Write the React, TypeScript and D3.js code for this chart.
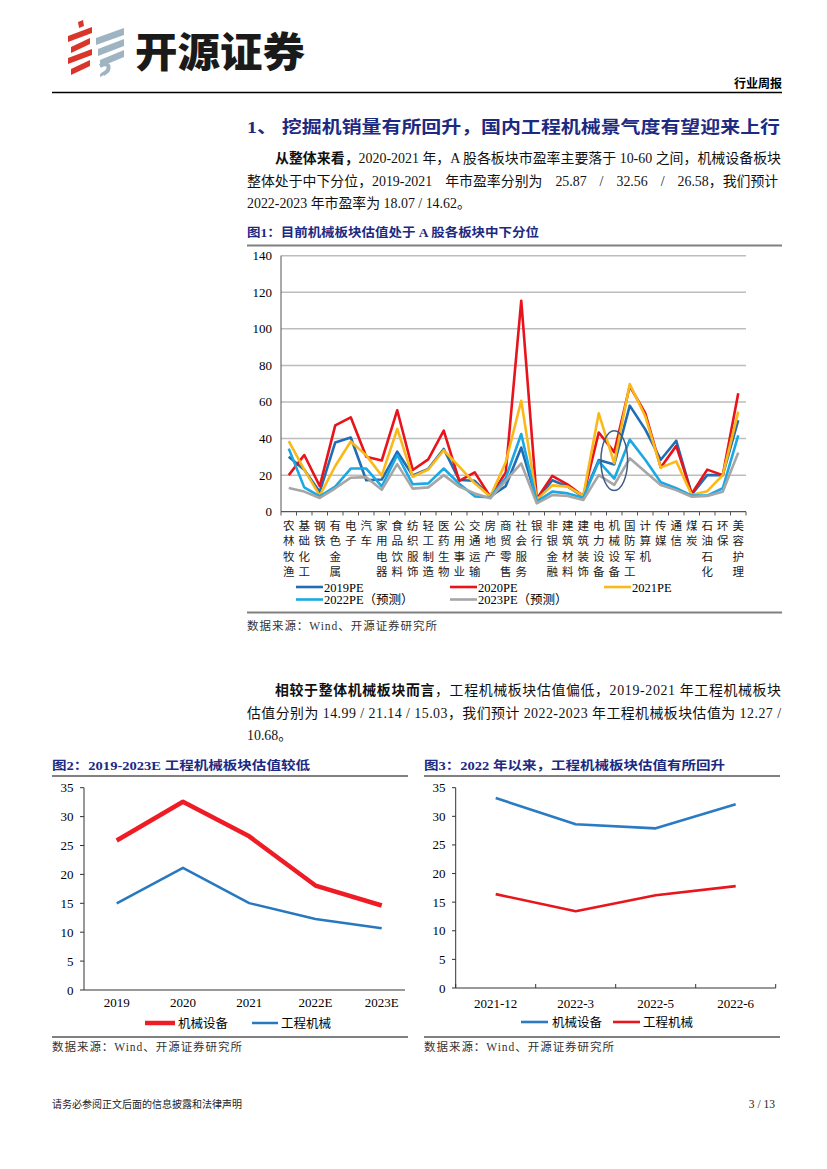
import React from 'react';
import * as d3 from 'd3';

// ---- chart 1: sector PE ----
const sectors = [
  '农林牧渔', '基础化工', '钢铁', '有色金属', '电子', '汽车', '家用电器', '食品饮料', '纺织服饰', '轻工制造',
  '医药生物', '公用事业', '交通运输', '房地产', '商贸零售', '社会服务', '银行', '非银金融', '建筑材料', '建筑装饰',
  '电力设备', '机械设备', '国防军工', '计算机', '传媒', '通信', '煤炭', '石油石化', '环保', '美容护理',
];
const pe2019 = [30, 23, 10.8, 37.9, 40.6, 17.2, 17.6, 32.8, 19.8, 23.4, 34.3, 17.3, 16.9, 8.4, 14, 35.1, 6.2, 17.2, 13.7, 8.2, 28.3, 25.87, 58, 45, 28.4, 38.8, 9.5, 20, 20, 50];
const pe2020 = [20, 31, 14, 47.2, 51.6, 30, 28, 55.5, 22.8, 28.6, 44.3, 16.8, 21.5, 8.2, 21.5, 115.4, 7, 19.6, 14.8, 8.6, 43.3, 32.56, 68.7, 53.9, 24.2, 36, 9.8, 23, 20, 64.8];
const pe2021 = [38.6, 23, 8.8, 25, 38.4, 30.8, 19.7, 45.3, 19.1, 23.1, 33.6, 24.6, 15.5, 8.3, 27, 60.7, 6.6, 14.4, 13.7, 8.6, 53.8, 26.58, 69.8, 52.2, 24.1, 27.5, 9.1, 11.2, 20, 54.7];
const pe2022 = [34.5, 13.3, 8.4, 13.7, 23.6, 23.6, 13.8, 31, 15, 15.5, 23.6, 15.3, 8.4, 7.9, 18.5, 42.5, 5.5, 11, 10, 7.6, 27.5, 18.07, 39.4, 28.4, 16.1, 12.8, 8.8, 8.8, 12.8, 41.7];
const pe2023 = [13, 11, 7.5, 12.8, 18.6, 18.9, 12, 26, 12.6, 13.3, 20, 13.7, 10, 7.3, 17, 26.4, 4.6, 9.1, 8.6, 6.4, 20, 14.62, 29.2, 21.9, 14.6, 11.8, 8.2, 8.6, 10.9, 32.3];
const peNames = ['2019PE', '2020PE', '2021PE', '2022PE（预测）', '2023PE（预测）'];
const peColors = ['#1f6db4', '#e8131b', '#fbb919', '#1ba8e3', '#a6a6a6'];
const peTicks = [0, 20, 40, 60, 80, 100, 120, 140];
const highlightSector = '机械设备';
const highlightRange = [11.6, 44.3];

// ---- chart 2: yearly ----
const years = ['2019', '2020', '2021', '2022E', '2023E'];
const machYear = [25.87, 32.56, 26.58, 18.07, 14.62];
const engYear = [14.99, 21.14, 15.03, 12.27, 10.68];

// ---- chart 3: recent months ----
const months = ['2021-12', '2022-3', '2022-5', '2022-6'];
const machMonth = [33.2, 28.6, 27.9, 32.1];
const engMonth = [16.4, 13.4, 16.2, 17.8];
const smallTicks = [0, 5, 10, 15, 20, 25, 30, 35];

const SERIF = "'Liberation Serif', 'Noto Sans CJK SC', serif";
const CJK = "'Noto Sans CJK SC', sans-serif";
const NAVY = '#1c2a83';
const BODY = 13.9;

const Chart1 = () => {
  const x = d3.scaleBand().domain(sectors).range([281, 746]);
  const y = d3.scaleLinear().domain([0, 140]).range([511.7, 255.7]);
  const cx = (i: number) => (x(sectors[i]) as number) + x.bandwidth() / 2;
  const line = d3.line<number>().x((_, i) => cx(i)).y(d => y(d));
  const series = [pe2019, pe2020, pe2021, pe2022, pe2023];
  const hx = (x(highlightSector) as number) + x.bandwidth() / 2;
  const legendPos = [
    [296, 587], [450, 587], [604, 587], [296, 599.5], [450, 599.5],
  ];
  return (
    <g>
      {peTicks.filter(t => t > 0).map(t => (
        <line key={t} x1={281} x2={746} y1={y(t)} y2={y(t)} stroke="#bdbdbd" strokeWidth={1.5} />
      ))}
      {peTicks.map(t => (
        <text key={t} x={272} y={y(t) + 4.5} textAnchor="end" fontSize={13} fontFamily={SERIF}>{t}</text>
      ))}
      <line x1={281} x2={281} y1={255.7} y2={511.7} stroke="#555" strokeWidth={1} />
      <line x1={281} x2={746} y1={511.7} y2={511.7} stroke="#555" strokeWidth={1.2} />
      {d3.range(sectors.length + 1).map(i => (
        <line key={i} x1={281 + i * x.step()} x2={281 + i * x.step()} y1={511.7} y2={515.5} stroke="#555" />
      ))}
      {series.map((s, k) => (
        <path key={k} d={line(s) as string} fill="none" stroke={peColors[k]} strokeWidth={2.6} strokeLinejoin="round" />
      ))}
      <ellipse cx={hx} cy={(y(highlightRange[0]) + y(highlightRange[1])) / 2}
        rx={x.bandwidth() * 0.86} ry={(y(highlightRange[0]) - y(highlightRange[1])) / 2}
        fill="none" stroke="#3d5d86" strokeWidth={1.5} />
      {sectors.map((s, i) => (
        <g key={s}>
          {s.split('').map((c, k) => (
            <text key={k} x={cx(i)} y={529.5 + k * 15.6} textAnchor="middle" fontSize={11.5} fontFamily={CJK} fill="#222">{c}</text>
          ))}
        </g>
      ))}
      {peNames.map((n, k) => (
        <g key={n}>
          <line x1={legendPos[k][0]} x2={legendPos[k][0] + 27} y1={legendPos[k][1]} y2={legendPos[k][1]} stroke={peColors[k]} strokeWidth={2.6} />
          <text x={legendPos[k][0] + 28} y={legendPos[k][1] + 4.5} fontSize={12.5} fontFamily={SERIF}>{n}</text>
        </g>
      ))}
    </g>
  );
};

const Chart2 = () => {
  const x = d3.scalePoint().domain(years).range([116.7, 381.7]);
  const y = d3.scaleLinear().domain([0, 35]).range([990, 787.7]);
  const line = d3.line<number>().x((_, i) => x(years[i]) as number).y(d => y(d));
  return (
    <g>
      <line x1={84} x2={84} y1={787.7} y2={990} stroke="#333" />
      <line x1={84} x2={405} y1={990} y2={990} stroke="#333" />
      {smallTicks.map(t => (
        <g key={t}>
          <line x1={80} x2={84} y1={y(t)} y2={y(t)} stroke="#333" />
          <text x={73.5} y={y(t) + 4.5} textAnchor="end" fontSize={13} fontFamily={SERIF}>{t}</text>
        </g>
      ))}
      {years.map(v => (
        <text key={v} x={x(v)} y={1006.5} textAnchor="middle" fontSize={13} fontFamily={SERIF}>{v}</text>
      ))}
      <path d={line(machYear) as string} fill="none" stroke="#ee1c25" strokeWidth={4.5} strokeLinejoin="round" />
      <path d={line(engYear) as string} fill="none" stroke="#2878c0" strokeWidth={2.5} strokeLinejoin="round" />
      <line x1={145} x2={175} y1={1023} y2={1023} stroke="#ee1c25" strokeWidth={4.5} />
      <text x={178} y={1027.5} fontSize={12.5} fontFamily={CJK}>机械设备</text>
      <line x1={252} x2={278} y1={1023} y2={1023} stroke="#2878c0" strokeWidth={2.5} />
      <text x={281} y={1027.5} fontSize={12.5} fontFamily={CJK}>工程机械</text>
    </g>
  );
};

const Chart3 = () => {
  const x = d3.scaleBand().domain(months).range([455.7, 775.7]);
  const y = d3.scaleLinear().domain([0, 35]).range([988, 787.7]);
  const cx = (i: number) => (x(months[i]) as number) + x.bandwidth() / 2;
  const line = d3.line<number>().x((_, i) => cx(i)).y(d => y(d));
  return (
    <g>
      <line x1={455.7} x2={455.7} y1={787.7} y2={988} stroke="#333" />
      <line x1={455.7} x2={775.7} y1={988} y2={988} stroke="#333" />
      {d3.range(months.length + 1).map(i => (
        <line key={i} x1={455.7 + i * x.step()} x2={455.7 + i * x.step()} y1={984} y2={988} stroke="#333" />
      ))}
      {smallTicks.map(t => (
        <g key={t}>
          <line x1={452} x2={455.7} y1={y(t)} y2={y(t)} stroke="#333" />
          <text x={445.5} y={y(t) + 4.5} textAnchor="end" fontSize={13} fontFamily={SERIF}>{t}</text>
        </g>
      ))}
      {months.map((m, i) => (
        <text key={m} x={cx(i)} y={1007.5} textAnchor="middle" fontSize={13} fontFamily={SERIF}>{m}</text>
      ))}
      <path d={line(machMonth) as string} fill="none" stroke="#2a7bc1" strokeWidth={2.6} strokeLinejoin="round" />
      <path d={line(engMonth) as string} fill="none" stroke="#e8151c" strokeWidth={2.6} strokeLinejoin="round" />
      <line x1={521} x2={548} y1={1022} y2={1022} stroke="#2a7bc1" strokeWidth={2.6} />
      <text x={552} y={1026.5} fontSize={12.5} fontFamily={CJK}>机械设备</text>
      <line x1={613} x2={640} y1={1022} y2={1022} stroke="#e8151c" strokeWidth={2.6} />
      <text x={643} y={1026.5} fontSize={12.5} fontFamily={CJK}>工程机械</text>
    </g>
  );
};

const Logo = () => (
  <g>
    {[0, 1, 2, 3].map(i => (
      <polygon key={'r' + i} fill="#d9352a"
        points={`${68 + (i % 2) * 3},${36 + i * 11} ${92 - (i % 2) * 2},${27 + i * 11} ${92 - (i % 2) * 2},${33 + i * 11} ${68 + (i % 2) * 3},${42 + i * 11}`} />
    ))}
    <polygon fill="#d9352a" points="78,22 83,20 84,26 79,28" />
    {[0, 1, 2].map(i => (
      <polygon key={'g' + i} fill="#9fb4c2"
        points={`${96 + i * 2},${38 + i * 11} ${124},${28 + i * 11} ${124},${35 + i * 11} ${96 + i * 2},${45 + i * 11}`} />
    ))}
    <path d="M100,66 C106,63 110,64 108,70 C106,74 101,74 102,76" fill="none" stroke="#9fb4c2" strokeWidth={4} />
  </g>
);

const bodyText = { fontSize: BODY, fontFamily: SERIF, fill: '#111' };

export default function App() {
  return (
    <div style={{ position: 'absolute', left: 0, top: 0 }}>
      <svg width={827} height={1169} style={{ display: 'block', background: '#fff' }}>
        <Logo />
        <text x={135} y={67} fontSize={41} fontWeight={900} fontFamily={CJK} fill="#1a1a1a" textLength={170} lengthAdjust="spacingAndGlyphs">开源证券</text>
        <text x={782} y={88} textAnchor="end" fontSize={12} fontWeight={700} fontFamily={CJK}>行业周报</text>
        <line x1={52} x2={782} y1={92.5} y2={92.5} stroke="#000" strokeWidth={1.5} />

        <text x={247} y={133} fontSize={17} fontWeight={700} fontFamily={SERIF} fill={NAVY} textLength={533} lengthAdjust="spacingAndGlyphs">1、 挖掘机销量有所回升，国内工程机械景气度有望迎来上行</text>

        <text x={275} y={163} {...bodyText} textLength={506} lengthAdjust="spacingAndGlyphs">
          <tspan fontWeight={700}>从整体来看，</tspan>2020-2021 年，A 股各板块市盈率主要落于 10-60 之间，机械设备板块
        </text>
        <text x={247} y={186} {...bodyText} wordSpacing={9.5}>整体处于中下分位，2019-2021 年市盈率分别为 25.87 / 32.56 / 26.58，我们预计</text>
        <text x={247} y={208} {...bodyText}>2022-2023 年市盈率为 18.07 / 14.62。</text>

        <text x={247} y={236.5} fontSize={12.5} fontWeight={700} fontFamily={SERIF} fill={NAVY} textLength={292} lengthAdjust="spacingAndGlyphs">图1：目前机械板块估值处于 A 股各板块中下分位</text>
        <line x1={247} x2={782} y1={245.5} y2={245.5} stroke="#808080" strokeWidth={2} />
        <Chart1 />
        <line x1={247} x2={782} y1={612.5} y2={612.5} stroke="#808080" strokeWidth={2} />
        <text x={247} y={630} fontSize={11.5} fontFamily={SERIF} fill="#333" textLength={190} lengthAdjust="spacing">数据来源：Wind、开源证券研究所</text>

        <text x={275} y={695} {...bodyText} textLength={506} lengthAdjust="spacing">
          <tspan fontWeight={700}>相较于整体机械板块而言</tspan>，工程机械板块估值偏低，2019-2021 年工程机械板块
        </text>
        <text x={247} y={718} {...bodyText} textLength={534} lengthAdjust="spacing">估值分别为 14.99 / 21.14 / 15.03，我们预计 2022-2023 年工程机械板块估值为 12.27 /</text>
        <text x={247} y={740} {...bodyText}>10.68。</text>

        <text x={52} y={770} fontSize={12.5} fontWeight={700} fontFamily={SERIF} fill={NAVY} textLength={258} lengthAdjust="spacingAndGlyphs">图2：2019-2023E 工程机械板块估值较低</text>
        <line x1={52} x2={408} y1={776} y2={776} stroke="#808080" strokeWidth={2} />
        <Chart2 />
        <line x1={52} x2={408} y1={1037} y2={1037} stroke="#808080" strokeWidth={2} />
        <text x={52} y={1051} fontSize={11.5} fontFamily={SERIF} fill="#333" textLength={190} lengthAdjust="spacing">数据来源：Wind、开源证券研究所</text>

        <text x={424} y={770} fontSize={12.5} fontWeight={700} fontFamily={SERIF} fill={NAVY} textLength={301} lengthAdjust="spacingAndGlyphs">图3：2022 年以来，工程机械板块估值有所回升</text>
        <line x1={424} x2={780} y1={776} y2={776} stroke="#808080" strokeWidth={2} />
        <Chart3 />
        <line x1={424} x2={780} y1={1037} y2={1037} stroke="#808080" strokeWidth={2} />
        <text x={424} y={1051} fontSize={11.5} fontFamily={SERIF} fill="#333" textLength={190} lengthAdjust="spacing">数据来源：Wind、开源证券研究所</text>

        <text x={52} y={1108} fontSize={10} fontFamily={SERIF} fill="#222">请务必参阅正文后面的信息披露和法律声明</text>
        <text x={775} y={1108} textAnchor="end" fontSize={11.5} fontFamily={SERIF} fill="#222">3 / 13</text>
      </svg>
    </div>
  );
}
